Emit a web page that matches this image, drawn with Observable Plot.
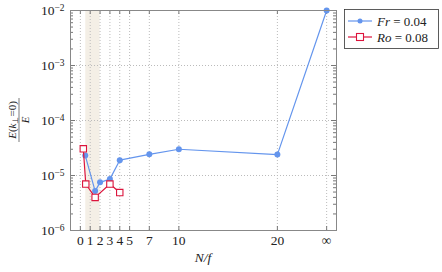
<!DOCTYPE html>
<html><head><meta charset="utf-8">
<script src="https://cdn.jsdelivr.net/npm/d3@7"></script>
<script src="https://cdn.jsdelivr.net/npm/@observablehq/plot@0.6"></script>
<style>body{margin:0;background:#fff} #chart{width:442px;height:272px}</style>
</head><body><div id="chart"></div>
<script>
// ---- data ----
const frX = [0.5, 1.5, 2, 3, 4, 7, 10, 20, 25];
const frY = [2.3e-5, 5.2e-6, 7.5e-6, 8.6e-6, 1.9e-5, 2.43e-5, 3.0e-5, 2.4e-5, 1e-2];
const roX = [0.3, 0.55, 1.5, 3, 4];
const roY = [3.05e-5, 7.0e-6, 4.0e-6, 7.0e-6, 4.9e-6];
const xTicks = [0, 1, 2, 3, 4, 5, 7, 10, 20, 25];
const xTickLabels = ["0", "1", "2", "3", "4", "5", "7", "10", "20", "∞"];
const yTicks = [1e-6, 1e-5, 1e-4, 1e-3, 1e-2];
const yExponents = ["−6", "−5", "−4", "−3", "−2"];
const bandX1 = [0.55];
const bandX2 = [2];
const seriesNames = ["Fr = 0.04", "Ro = 0.08"];

const blue = "#6495ed", red = "#dc143c";
const W = 442, H = 272, mL = 70, mR = 106, mT = 10, mB = 42;
const pw = W - mL - mR, ph = H - mT - mB;

const fr = frX.map((x, i) => ({x, y: frY[i]}));
const ro = roX.map((x, i) => ({x, y: roY[i]}));
const band = bandX1.map((x1, i) => ({x1, x2: bandX2[i]}));
const yMinor = [];
for (const d of yTicks.slice(0, -1)) for (let k = 2; k <= 9; k++) yMinor.push(d * k);

const font = "Liberation Serif";
const plot = Plot.plot({
  width: W, height: H,
  marginLeft: mL, marginRight: mR, marginTop: mT, marginBottom: mB,
  style: {fontFamily: font, fontSize: "13px", background: "white", color: "#222"},
  x: {domain: [-1, 26], label: null},
  y: {type: "log", domain: [1e-6, 1e-2], label: null},
  marks: [
    Plot.rect(band, {x1: "x1", x2: "x2", y1: 1e-6, y2: 1e-2, fill: "#f4efe6"}),
    Plot.gridX(xTicks, {stroke: "#bbb", strokeOpacity: 1, strokeDasharray: "1,2"}),
    Plot.gridY(yTicks, {stroke: "#bbb", strokeOpacity: 1, strokeDasharray: "1,2"}),
    // inward ticks
    Plot.tickX(xTicks, {x: d => d, insetTop: ph - 4, stroke: "#777"}),
    Plot.tickX(xTicks, {x: d => d, insetBottom: ph - 4, stroke: "#777"}),
    Plot.tickY(yTicks, {y: d => d, insetRight: pw - 5, stroke: "#777"}),
    Plot.tickY(yTicks, {y: d => d, insetLeft: pw - 5, stroke: "#777"}),
    Plot.tickY(yMinor, {y: d => d, insetRight: pw - 3, stroke: "#777"}),
    Plot.tickY(yMinor, {y: d => d, insetLeft: pw - 3, stroke: "#777"}),
    Plot.axisX(xTicks, {tickSize: 0, tickPadding: 5, tickFormat: d => xTickLabels[xTicks.indexOf(d)]}),
    Plot.axisY(yTicks, {tickSize: 0, tickPadding: 6, tickFormat: d => "10"}),
    Plot.line(fr, {x: "x", y: "y", stroke: blue, strokeWidth: 1.2}),
    Plot.dot(fr, {x: "x", y: "y", fill: blue, r: 3}),
    Plot.line(ro, {x: "x", y: "y", stroke: red, strokeWidth: 1.2}),
    Plot.dot(ro, {x: "x", y: "y", symbol: "square", r: 3.6, fill: "white", stroke: red, strokeWidth: 1.1}),
    Plot.frame({stroke: "#888", strokeWidth: 1})
  ]
});
document.getElementById("chart").append(plot);
const svg = d3.select(plot);
svg.selectAll('[aria-label="x-axis tick label"], [aria-label="y-axis tick label"]')
  .attr("font-family", font).attr("font-size", "13.5px");

// superscript exponents on y tick labels
svg.selectAll('[aria-label="y-axis tick label"] text').each(function(d, i) {
  const t = d3.select(this);
  t.text(null);
  t.append("tspan").text("10");
  t.append("tspan").attr("dy", "-0.45em").attr("font-size", "9.5px").text(yExponents[i]);
});

// x label
svg.append("text").attr("x", mL + pw / 2).attr("y", 262).attr("text-anchor", "middle")
  .attr("font-family", font).attr("font-size", "13.5px").attr("font-style", "italic").text("N/f");

// y label fraction
const g = svg.append("g").attr("transform", `translate(19,${mT + ph / 2}) rotate(-90)`)
  .attr("font-family", font).attr("font-size", "11px").attr("text-anchor", "middle");
const num = g.append("text").attr("y", -3);
num.append("tspan").attr("font-style", "italic").text("E");
num.append("tspan").text("(");
num.append("tspan").attr("font-style", "italic").text("k");
num.append("tspan").attr("font-size", "7.5px").attr("dy", "2").text("⊥");
num.append("tspan").attr("dy", "-2").text("=0)");
g.append("line").attr("x1", -22).attr("x2", 22).attr("stroke", "#222").attr("stroke-width", 0.6);
g.append("text").attr("y", 10).attr("font-style", "italic").text("E");

// legend
const lg = svg.append("g").attr("font-family", font).attr("font-size", "13px").attr("text-anchor", "start");
lg.append("rect").attr("x", 344.5).attr("y", 9.5).attr("width", 94).attr("height", 39)
  .attr("fill", "white").attr("stroke", "#333").attr("stroke-width", 0.8);
const cols = [blue, red];
seriesNames.forEach((name, i) => {
  const y = 21 + i * 16;
  lg.append("line").attr("x1", 348).attr("x2", 372).attr("y1", y).attr("y2", y)
    .attr("stroke", cols[i]).attr("stroke-width", 1.2);
  if (i === 0) lg.append("circle").attr("cx", 360).attr("cy", y).attr("r", 2.5).attr("fill", blue);
  else lg.append("rect").attr("x", 356.5).attr("y", y - 3.5).attr("width", 7).attr("height", 7)
    .attr("fill", "white").attr("stroke", red).attr("stroke-width", 1.1);
  const [a, b] = name.split(" = ");
  const t = lg.append("text").attr("x", 377).attr("y", y + 4.5);
  t.append("tspan").attr("font-style", "italic").text(a);
  t.append("tspan").text(" = " + b);
});
</script></body></html>
